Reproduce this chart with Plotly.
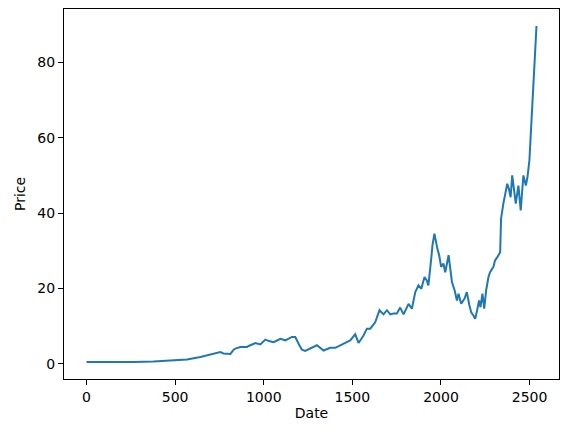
import plotly.graph_objects as go

# values (row index vs price)
dates = [0, 100, 200, 265, 378, 450, 492, 567, 643, 699, 737, 755, 773, 793, 812,
         830, 840, 868, 906, 915, 953, 981, 1009, 1030, 1056, 1094, 1122, 1159,
         1178, 1197, 1215, 1234, 1263, 1300, 1338, 1375, 1404, 1450, 1488, 1516,
         1535, 1563, 1582, 1601, 1620, 1629, 1653, 1676, 1695, 1714, 1732, 1751,
         1770, 1789, 1817, 1836, 1855, 1873, 1889, 1907, 1920, 1929, 1945, 1952,
         1963, 1971, 1980, 1990, 2001, 2014, 2024, 2043, 2062, 2077, 2090, 2099,
         2114, 2133, 2146, 2159, 2170, 2183, 2193, 2204, 2215, 2223, 2234, 2244,
         2255, 2268, 2277, 2296, 2305, 2318, 2334, 2339, 2352, 2374, 2383, 2393,
         2402, 2422, 2437, 2450, 2465, 2479, 2488, 2499, 2508, 2518, 2522, 2527,
         2533, 2539]
prices = [0.43, 0.42, 0.41, 0.42, 0.6, 0.75, 0.9, 1.1, 1.8, 2.4, 2.9, 3.1, 2.7, 2.7, 2.6,
          3.7, 4.0, 4.4, 4.4, 4.7, 5.5, 5.1, 6.4, 6.0, 5.7, 6.6, 6.2, 7.1,
          7.1, 5.3, 3.7, 3.4, 4.0, 4.9, 3.5, 4.2, 4.2, 5.3, 6.2, 7.8,
          5.5, 7.5, 9.3, 9.3, 10.6, 11.0, 14.2, 13.1, 14.2, 13.1, 13.3, 13.3,
          14.9, 13.1, 15.9, 14.6, 19.0, 20.8, 19.9, 23.0, 22.1, 20.8, 27.9, 31.4,
          34.5, 32.3, 30.5, 28.8, 25.7, 26.6, 24.3, 28.8, 21.7, 19.5, 16.8, 18.6,
          15.9, 17.3, 19.0, 15.8, 13.7, 12.8, 11.9, 14.2, 16.8, 15.0, 18.6, 14.6,
          19.5, 23.0, 24.3, 25.7, 27.4, 28.3, 29.6, 38.5, 42.5, 47.8, 46.5, 44.2,
          50.0, 42.5, 47.3, 40.7, 50.0, 47.3, 49.5, 54.0, 62.8, 69.0, 74.3, 78.8,
          85.0, 89.7]

x_ticks = [0, 500, 1000, 1500, 2000, 2500]
y_ticks = [0, 20, 40, 60, 80]

fig = go.Figure()
fig.add_trace(go.Scatter(x=dates, y=prices, mode="lines",
                         line=dict(color="#1f77b4", width=2), showlegend=False))

axis_style = dict(showline=True, linecolor="black", linewidth=1, mirror=True,
                  ticks="outside", ticklen=5, tickcolor="black", tickwidth=1,
                  showgrid=False, zeroline=False, automargin=False,
                  tickfont=dict(family="DejaVu Sans", size=14, color="black"))

fig.update_xaxes(range=[-127, 2666], tickvals=x_ticks,
                 title=dict(text="Date", font=dict(family="DejaVu Sans", size=14, color="black"),
                            standoff=4),
                 **axis_style)
fig.update_yaxes(range=[-4.07, 94.2], tickvals=y_ticks,
                 title=dict(text="Price", font=dict(family="DejaVu Sans", size=14, color="black"),
                            standoff=8),
                 **axis_style)

# page body has an 8px margin, so the figure is shrunk by that much
fig.update_layout(width=562, height=432, plot_bgcolor="white", paper_bgcolor="white",
                  margin=dict(l=56, r=11, t=1, b=61))

fig.write_html("out.html")
